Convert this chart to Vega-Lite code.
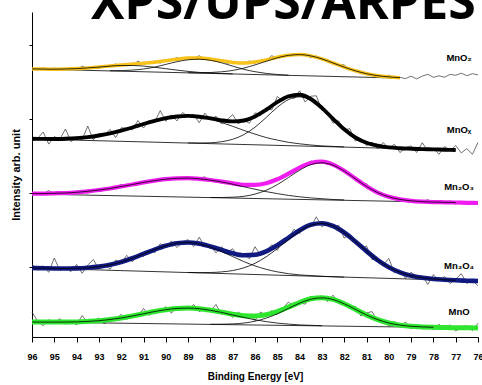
{
  "$schema": "https://vega.github.io/schema/vega-lite/v6.json",
  "width": 446,
  "height": 325,
  "autosize": {"type": "none"},
  "padding": {"left": 32, "top": 12, "right": 4, "bottom": 48},
  "background": "white",
  "config": {"view": {"stroke": null}, "font": "Liberation Sans"},
  "datasets": {
    "raw": [
      {"e":96,"a":268.8,"b":195.8,"c":142.1,"d":72.6,"f":25.0},
      {"e":95.75,"a":267.0,"b":198.6,"c":143.9,"d":67.7,"f":15.9},
      {"e":95.5,"a":269.2,"b":205.0,"c":143.0,"d":71.2,"f":11.3},
      {"e":95.25,"a":267.5,"b":192.9,"c":146.4,"d":64.7,"f":17.3},
      {"e":95,"a":269.0,"b":200.4,"c":142.7,"d":79.0,"f":14.3},
      {"e":94.75,"a":266.5,"b":197.8,"c":144.6,"d":66.5,"f":18.3},
      {"e":94.5,"a":268.3,"b":208.0,"c":142.6,"d":69.3,"f":12.9},
      {"e":94.25,"a":269.1,"b":195.4,"c":145.5,"d":65.4,"f":16.3},
      {"e":94,"a":267.2,"b":200.1,"c":144.6,"d":72.6,"f":12.1},
      {"e":93.75,"a":270.8,"b":197.4,"c":145.9,"d":63.7,"f":21.4},
      {"e":93.5,"a":268.6,"b":211.0,"c":143.8,"d":72.0,"f":13.8},
      {"e":93.25,"a":269.9,"b":197.1,"c":147.8,"d":77.4,"f":16.3},
      {"e":93,"a":268.4,"b":203.5,"c":146.5,"d":68.0,"f":19.0},
      {"e":92.75,"a":271.6,"b":201.8,"c":148.8,"d":72.5,"f":13.0},
      {"e":92.5,"a":270.8,"b":207.6,"c":147.3,"d":67.8,"f":19.3},
      {"e":92.25,"a":273.0,"b":199.4,"c":149.9,"d":76.8,"f":18.0},
      {"e":92,"a":271.2,"b":209.2,"c":152.7,"d":74.2,"f":22.6},
      {"e":91.75,"a":273.0,"b":208.8,"c":150.6,"d":81.7,"f":17.6},
      {"e":91.5,"a":271.6,"b":207.1,"c":152.6,"d":75.1,"f":21.9},
      {"e":91.25,"a":275.9,"b":216.5,"c":152.0,"d":82.5,"f":20.6},
      {"e":91,"a":272.9,"b":209.0,"c":155.8,"d":80.3,"f":28.6},
      {"e":90.75,"a":274.4,"b":216.2,"c":155.1,"d":87.2,"f":21.7},
      {"e":90.5,"a":276.0,"b":215.0,"c":157.2,"d":84.2,"f":27.0},
      {"e":90.25,"a":273.8,"b":226.4,"c":155.8,"d":93.3,"f":25.8},
      {"e":90,"a":277.0,"b":215.7,"c":159.6,"d":90.0,"f":30.3},
      {"e":89.75,"a":276.9,"b":222.1,"c":157.6,"d":96.1,"f":23.8},
      {"e":89.5,"a":279.4,"b":216.1,"c":159.0,"d":89.4,"f":30.7},
      {"e":89.25,"a":277.3,"b":224.4,"c":157.8,"d":95.0,"f":29.4},
      {"e":89,"a":279.3,"b":220.7,"c":160.2,"d":97.4,"f":27.1},
      {"e":88.75,"a":278.3,"b":222.7,"c":156.9,"d":90.4,"f":32.5},
      {"e":88.5,"a":281.3,"b":214.3,"c":159.1,"d":99.8,"f":25.3},
      {"e":88.25,"a":277.4,"b":223.9,"c":160.1,"d":90.4,"f":28.8},
      {"e":88,"a":278.8,"b":217.0,"c":156.2,"d":91.8,"f":25.9},
      {"e":87.75,"a":276.9,"b":220.9,"c":156.6,"d":84.1,"f":32.5},
      {"e":87.5,"a":277.5,"b":213.1,"c":154.0,"d":90.3,"f":22.5},
      {"e":87.25,"a":273.6,"b":217.4,"c":155.5,"d":84.6,"f":25.7},
      {"e":87,"a":275.5,"b":222.4,"c":153.3,"d":88.2,"f":19.5},
      {"e":86.75,"a":274.5,"b":213.3,"c":154.5,"d":80.0,"f":24.8},
      {"e":86.5,"a":273.1,"b":216.9,"c":151.0,"d":83.4,"f":21.0},
      {"e":86.25,"a":276.1,"b":213.7,"c":152.7,"d":78.1,"f":22.7},
      {"e":86,"a":273.7,"b":224.1,"c":151.3,"d":90.3,"f":16.5},
      {"e":85.75,"a":276.6,"b":222.6,"c":153.7,"d":81.6,"f":25.0},
      {"e":85.5,"a":276.7,"b":229.5,"c":152.8,"d":86.1,"f":21.2},
      {"e":85.25,"a":281.3,"b":227.0,"c":157.1,"d":92.3,"f":26.3},
      {"e":85,"a":278.8,"b":240.5,"c":157.3,"d":86.6,"f":22.7},
      {"e":84.75,"a":281.6,"b":235.8,"c":161.7,"d":97.9,"f":28.6},
      {"e":84.5,"a":280.4,"b":241.5,"c":161.9,"d":98.8,"f":35.0},
      {"e":84.25,"a":283.3,"b":238.3,"c":166.6,"d":107.8,"f":30.1},
      {"e":84,"a":282.4,"b":246.2,"c":170.3,"d":103.5,"f":34.8},
      {"e":83.75,"a":282.5,"b":234.9,"c":170.5,"d":110.7,"f":32.8},
      {"e":83.5,"a":279.2,"b":240.8,"c":176.1,"d":110.2,"f":40.9},
      {"e":83.25,"a":281.0,"b":241.2,"c":174.1,"d":120.2,"f":37.9},
      {"e":83,"a":277.6,"b":226.7,"c":175.7,"d":110.2,"f":41.1},
      {"e":82.75,"a":277.1,"b":224.9,"c":172.3,"d":114.4,"f":35.5},
      {"e":82.5,"a":272.8,"b":213.8,"c":173.4,"d":110.2,"f":41.8},
      {"e":82.25,"a":272.3,"b":216.2,"c":169.1,"d":111.8,"f":33.9},
      {"e":82,"a":272.1,"b":206.9,"c":167.7,"d":98.9,"f":33.8},
      {"e":81.75,"a":267.1,"b":208.4,"c":161.4,"d":102.8,"f":28.1},
      {"e":81.5,"a":266.3,"b":195.9,"c":158.9,"d":96.3,"f":30.7},
      {"e":81.25,"a":263.2,"b":198.5,"c":153.3,"d":88.3,"f":21.0},
      {"e":81,"a":264.5,"b":191.4,"c":153.3,"d":91.1,"f":24.1},
      {"e":80.75,"a":261.9,"b":194.8,"c":146.8,"d":77.4,"f":25.4},
      {"e":80.5,"a":262.1,"b":188.1,"c":144.5,"d":78.5,"f":15.6},
      {"e":80.25,"a":259.4,"b":194.5,"c":143.5,"d":72.2,"f":16.6},
      {"e":80,"a":261.9,"b":188.4,"c":138.5,"d":78.6,"f":10.7},
      {"e":79.75,"a":259.1,"b":192.8,"c":139.7,"d":64.1,"f":15.4},
      {"e":79.5,"a":259.6,"b":184.4,"c":137.5,"d":67.1,"f":11.3},
      {"e":79.25,"a":258.4,"b":189.4,"c":138.5,"d":58.6,"f":14.9},
      {"e":79,"a":260.8,"b":191.1,"c":135.2,"d":64.9,"f":8.0},
      {"e":78.75,"a":258.1,"b":184.5,"c":136.2,"d":59.8,"f":11.6},
      {"e":78.5,"a":260.9,"b":194.3,"c":134.8,"d":61.2,"f":8.0},
      {"e":78.25,"a":262.7,"b":186.2,"c":137.5,"d":52.6,"f":11.4},
      {"e":78,"a":259.7,"b":188.8,"c":133.7,"d":62.4,"f":7.3},
      {"e":77.75,"a":261.2,"b":182.7,"c":135.5,"d":56.1,"f":12.6},
      {"e":77.5,"a":259.8,"b":190.5,"c":134.4,"d":60.5,"f":8.6},
      {"e":77.25,"a":262.6,"b":186.4,"c":135.9,"d":53.4,"f":12.1},
      {"e":77,"a":261.7,"b":191.4,"c":132.7,"d":57.9,"f":6.0},
      {"e":76.75,"a":263.8,"b":184.1,"c":135.3,"d":63.3,"f":9.9},
      {"e":76.5,"a":261.3,"b":188.4,"c":134.5,"d":53.5,"f":11.3},
      {"e":76.25,"a":263.3,"b":182.7,"c":133.3,"d":56.6,"f":6.4},
      {"e":76,"a":262.1,"b":194.6,"c":135.7,"d":51.2,"f":13.8}
    ],
    "fit": [
      {"e":96,"A":268.1,"B":198.2,"C":143.4,"D":69.0,"F":15.0,"a1":268.1,"b1":198.2,"c1":143.4,"d1":69.0,"f1":15.0},
      {"e":95.5,"A":267.9,"B":198.1,"C":143.4,"D":68.8,"F":14.9,"a1":267.9,"b1":198.1,"c1":143.4,"d1":68.8,"f1":14.9},
      {"e":95,"A":267.8,"B":198.0,"C":143.7,"D":68.55,"F":14.9,"a1":267.8,"b1":198.0,"c1":143.7,"d1":68.55,"f1":14.9},
      {"e":94.5,"A":268.0,"B":198.3,"C":144.0,"D":68.5,"F":15.0,"a1":268.0,"b1":198.3,"c1":144.0,"d1":68.5,"f1":15.0},
      {"e":94,"A":268.4,"B":198.9,"C":144.7,"D":68.6,"F":15.1,"a1":268.4,"b1":198.9,"c1":144.7,"d1":68.6,"f1":15.1},
      {"e":93.5,"A":269.1,"B":199.9,"C":145.7,"D":69.2,"F":15.6,"a1":269.1,"b1":199.9,"c1":145.7,"d1":69.2,"f1":15.6},
      {"e":93,"A":270.0,"B":201.5,"C":147.0,"D":70.35,"F":16.3,"a1":269.9,"b1":201.5,"c1":147.0,"d1":70.35,"f1":16.3},
      {"e":92.5,"A":271.1,"B":203.6,"C":148.5,"D":72.2,"F":17.5,"a1":270.9,"a2":266.3,"b1":203.6,"c1":148.5,"d1":72.2,"f1":17.5},
      {"e":92,"A":272.1,"B":206.4,"C":150.5,"D":75.0,"F":19.0,"a1":271.5,"a2":266.4,"b1":206.4,"c1":150.5,"d1":75.0,"f1":19.0},
      {"e":91.5,"A":272.9,"B":209.5,"C":152.5,"D":78.7,"F":21.0,"a1":271.5,"a2":266.9,"b1":209.5,"c1":152.5,"d1":78.7,"f1":21.0},
      {"e":91,"A":273.7,"B":213.0,"C":154.6,"D":83.05,"F":23.2,"a1":270.9,"a2":268.0,"b1":213.0,"c1":154.6,"d1":83.05,"f1":23.2},
      {"e":90.5,"A":274.8,"B":216.2,"C":156.4,"D":87.4,"F":25.5,"a1":269.7,"a2":269.9,"b1":216.2,"c1":156.4,"d1":87.4,"f1":25.5},
      {"e":90,"A":276.2,"B":218.9,"C":157.8,"D":91.2,"F":27.3,"a1":268.3,"a2":272.6,"b1":218.9,"c1":157.8,"d1":91.2,"f1":27.3},
      {"e":89.5,"A":277.8,"B":220.5,"C":158.7,"D":93.8,"F":28.6,"a1":266.9,"a2":275.3,"b1":220.5,"c1":158.7,"d1":93.8,"f1":28.6},
      {"e":89,"A":278.9,"B":221.1,"C":158.9,"D":94.55,"F":28.9,"a1":265.6,"a2":277.2,"a3":264.3,"b1":221.0,"b2":194.1,"c1":158.9,"d1":94.45,"d2":64.55,"f1":28.9},
      {"e":88.5,"A":279.0,"B":220.3,"C":158.2,"D":93.4,"F":28.3,"a1":264.6,"a2":277.8,"a3":264.2,"b1":220.0,"b2":194.0,"c1":158.2,"d1":93.1,"d2":64.4,"f1":28.3},
      {"e":88,"A":278.1,"B":218.6,"C":157.0,"D":90.6,"F":26.8,"a1":264.0,"a2":276.7,"a3":264.5,"b1":217.8,"b2":194.2,"c1":156.9,"c2":139.5,"d1":89.9,"d2":64.5,"f1":26.7,"f2":12.7},
      {"e":87.5,"A":276.2,"B":216.7,"C":155.4,"D":87.1,"F":24.9,"a1":263.5,"a2":274.2,"a3":265.2,"b1":214.5,"b2":195.3,"c1":155.1,"c2":139.5,"d1":85.5,"d2":65.1,"f1":24.6,"f2":12.8},
      {"e":87,"A":274.6,"B":215.6,"C":153.6,"D":83.75,"F":22.8,"a1":263.1,"a2":270.9,"a3":266.6,"b1":210.7,"b2":197.7,"c1":152.8,"c2":139.8,"d1":80.45,"d2":66.45,"f1":22.0,"f2":13.1},
      {"e":86.5,"A":273.9,"B":216.5,"C":152.2,"D":81.8,"F":21.3,"a2":267.7,"a3":268.9,"b1":206.6,"b2":202.4,"c1":150.2,"c2":140.7,"d1":75.4,"d2":69.2,"f1":19.5,"f2":13.95},
      {"e":86,"A":275.0,"B":220.5,"C":152.2,"D":82.3,"F":21.0,"a2":265.3,"a3":272.1,"b1":202.9,"b2":209.8,"c1":147.8,"c2":142.9,"d1":71.1,"d2":73.7,"f1":17.2,"f2":15.8},
      {"e":85.5,"A":277.1,"B":227.1,"C":153.8,"D":85.7,"F":22.4,"a2":263.6,"a3":275.7,"b1":199.5,"b2":219.5,"c1":145.4,"c2":146.7,"d1":67.7,"d2":80.2,"f1":15.4,"f2":18.9},
      {"e":85,"A":279.8,"B":234.9,"C":157.7,"D":91.75,"F":25.4,"a2":262.5,"a3":279.2,"b1":196.9,"b2":229.7,"c1":143.4,"c2":152.4,"d1":65.15,"d2":88.45,"f1":13.9,"f2":23.2},
      {"e":84.5,"A":281.8,"B":240.7,"C":163.3,"D":99.2,"F":29.9,"a2":261.8,"a3":281.6,"b1":194.7,"b2":237.4,"c1":141.6,"c2":159.5,"d1":63.3,"d2":97.4,"f1":12.9,"f2":28.6},
      {"e":84,"A":282.5,"B":242.2,"C":169.4,"D":106.7,"F":34.5,"a3":282.4,"b1":193.2,"b2":240.1,"c1":140.2,"c2":166.8,"d1":62.1,"d2":105.8,"f1":12.1,"f2":33.8},
      {"e":83.5,"A":281.1,"B":238.0,"C":174.0,"D":112.2,"F":38.2,"a3":281.1,"b1":192.0,"b2":236.8,"c1":139.1,"c2":172.3,"d1":61.4,"d2":111.7,"f1":11.7,"f2":37.8},
      {"e":83,"A":278.1,"B":229.1,"C":175.3,"D":113.75,"F":39.3,"a3":278.1,"b1":191.1,"b2":228.5,"c1":138.3,"c2":174.2,"d1":60.75,"d2":113.55,"f1":11.3,"f2":39.1},
      {"e":82.5,"A":274.0,"B":218.2,"C":172.4,"D":111.0,"F":37.6,"a3":274.0,"b1":190.6,"b2":217.8,"c1":137.5,"c2":171.8,"d1":60.3,"d2":111.0,"f2":37.5},
      {"e":82,"A":269.9,"B":207.7,"C":166.3,"D":104.5,"F":33.2,"a3":269.9,"b1":190.1,"b2":207.5,"c1":137.1,"c2":165.9,"d1":59.9,"d2":104.5,"f2":33.2},
      {"e":81.5,"A":266.2,"B":199.5,"C":158.4,"D":95.5,"F":27.7,"a3":266.2,"b2":199.5,"c2":158.2,"d2":95.5,"f2":27.7},
      {"e":81,"A":263.3,"B":194.2,"C":150.7,"D":85.85,"F":22.0,"a3":263.3,"b2":194.2,"c2":150.6,"d2":85.85,"f2":22.0},
      {"e":80.5,"A":261.3,"B":191.3,"C":144.4,"D":76.9,"F":17.4,"a3":261.3,"b2":191.3,"c2":144.4,"d2":76.9,"f2":17.4},
      {"e":80,"A":260.1,"B":189.6,"C":140.2,"D":69.8,"F":14.0,"a3":260.1,"b2":189.6,"c2":140.2,"d2":69.8,"f2":14.0},
      {"e":79.5,"A":259.3,"B":188.8,"C":137.6,"D":64.7,"F":11.9,"a3":259.3,"b2":188.8,"c2":137.6,"d2":64.7,"f2":11.9},
      {"e":79,"B":188.3,"C":136.2,"D":61.25,"F":10.7,"c2":136.2,"d2":61.25,"f2":10.7},
      {"e":78.5,"B":187.9,"C":135.4,"D":59.2,"F":10.1,"c2":135.4,"d2":59.2,"f2":10.1},
      {"e":78,"B":187.6,"C":134.9,"D":58.0,"F":9.7,"c2":134.9,"d2":58.0,"f2":9.7},
      {"e":77.5,"B":187.3,"C":134.7,"D":57.3,"F":9.5,"c2":134.7,"d2":57.3},
      {"e":77,"B":187.0,"C":134.5,"D":56.7,"F":9.3,"c2":134.5,"d2":56.65},
      {"e":76.5,"C":134.2,"D":56.3,"F":9.2},
      {"e":76,"C":134.0,"D":56.0,"F":9.0}
    ],
    "bg": [
      {"k":"a","e":96,"v":268.0},{"k":"a","e":79.5,"v":258.9},
      {"k":"b","e":96,"v":198.0},{"k":"b","e":77,"v":187.0},
      {"k":"c","e":96,"v":143.0},{"k":"c","e":76,"v":134.0},
      {"k":"d","e":96,"v":69.0},{"k":"d","e":76,"v":56.0},
      {"k":"f","e":96,"v":15.0},{"k":"f","e":76,"v":9.0}
    ],
    "labels": [
      {"e":76.85,"v":279,"t":"MnO₂"},
      {"e":76.85,"v":207,"t":"MnOₓ"},
      {"e":76.85,"v":150,"t":"Mn₂O₃"},
      {"e":76.85,"v":71,"t":"Mn₃O₄"},
      {"e":76.85,"v":25,"t":"MnO"}
    ],
    "heading": [
      {"e":76.1,"v":318,"t":"XPS/UPS/ARPES"}
    ]
  },
  "encoding": {
    "x": {"field": "e", "type": "quantitative",
      "scale": {"domain": [76, 96], "reverse": true, "nice": false, "zero": false},
      "axis": {"values": [76,77,78,79,80,81,82,83,84,85,86,87,88,89,90,91,92,93,94,95,96], "format": "d", "grid": false,
        "domainColor": "#000000", "tickColor": "#000000", "tickSize": 5, "labelFlush": false,
        "labelFont": "Liberation Sans", "labelFontWeight": "bold", "labelFontSize": 9, "labelColor": "#000000", "labelPadding": 10,
        "title": "Binding Energy [eV]", "titleFont": "Liberation Sans", "titleFontWeight": "bold", "titleFontSize": 10, "titleColor": "#000000", "titlePadding": 10}},
    "y": {"field": "v", "type": "quantitative",
      "scale": {"domain": [0, 325], "nice": false, "zero": false},
      "axis": {"values": [70, 144, 218, 292], "labels": false, "grid": false,
        "domainColor": "#000000", "tickColor": "#000000", "tickSize": 3,
        "title": "Intensity arb. unit", "titleFont": "Liberation Sans", "titleFontWeight": "bold", "titleFontSize": 11, "titleColor": "#000000", "titlePadding": 7}}
  },
  "layer": [
    {
      "data": {"name": "raw"},
      "transform": [{"fold": ["a", "b", "c", "d", "f"], "as": ["k", "v"]}],
      "mark": {"type": "line", "color": "#333333", "strokeWidth": 0.7},
      "encoding": {"detail": {"field": "k"}}
    },
    {
      "data": {"name": "bg"},
      "mark": {"type": "line", "color": "#000000", "strokeWidth": 0.8},
      "encoding": {"detail": {"field": "k"}}
    },
    {
      "data": {"name": "fit"},
      "transform": [{"fold": ["A", "B", "C", "D", "F"], "as": ["k", "v"]}],
      "mark": {"type": "line", "interpolate": "monotone"},
      "encoding": {
        "color": {"field": "k", "type": "nominal", "legend": null,
          "scale": {"domain": ["A", "B", "C", "D", "F"], "range": ["#f7c21a", "#000000", "#f01cf0", "#101a80", "#2ee62e"]}},
        "strokeWidth": {"field": "k", "type": "nominal", "legend": null,
          "scale": {"domain": ["A", "B", "C", "D", "F"], "range": [3.5, 5, 4, 5, 5]}}
      }
    },
    {
      "data": {"name": "fit"},
      "transform": [{"fold": ["a1", "a2", "a3", "b1", "b2", "c1", "c2", "d1", "d2", "f1", "f2"], "as": ["k", "v"]}],
      "mark": {"type": "line", "interpolate": "monotone", "color": "#000000", "strokeWidth": 0.8},
      "encoding": {"detail": {"field": "k"}}
    },
    {
      "data": {"name": "labels"},
      "mark": {"type": "text", "font": "Liberation Sans", "fontWeight": "bold", "fontSize": 9.5, "align": "center", "baseline": "middle", "color": "#000000"},
      "encoding": {"text": {"field": "t"}}
    },
    {
      "data": {"name": "heading"},
      "mark": {"type": "text", "font": "Open Sans", "fontWeight": "bold", "fontSize": 50, "align": "right", "baseline": "alphabetic", "color": "#000000"},
      "encoding": {"text": {"field": "t"}}
    }
  ]
}
